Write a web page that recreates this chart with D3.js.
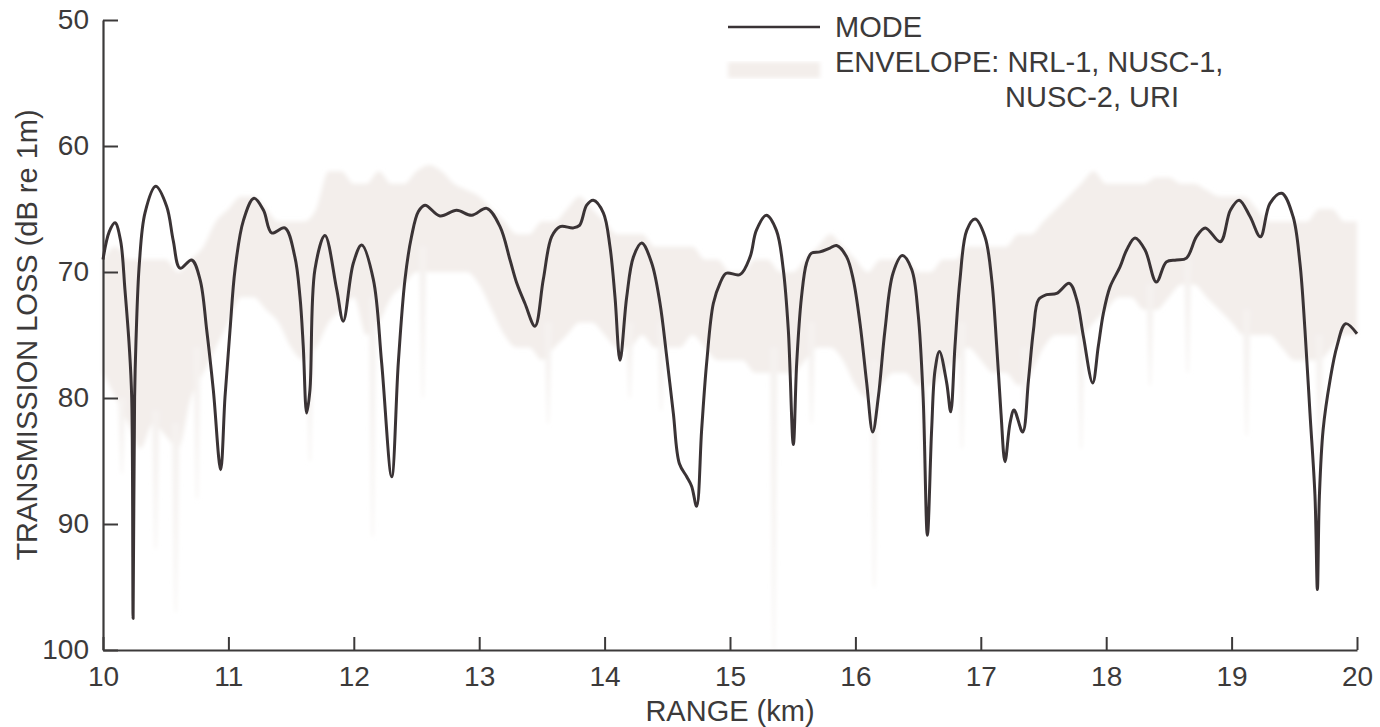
<!DOCTYPE html>
<html>
<head>
<meta charset="utf-8">
<script src="https://cdn.jsdelivr.net/npm/d3@7"></script>
<style>
  html, body { margin: 0; padding: 0; background: #ffffff; }
  svg { display: block; }
  text { font-family: "Liberation Sans", Arial, Helvetica, sans-serif; fill: #3c3a3a; }
</style>
</head>
<body>
<svg id="chart" width="1380" height="727"></svg>
<script>
// ---------- DATA ----------
const xTicks = [10, 11, 12, 13, 14, 15, 16, 17, 18, 19, 20];
const yTicks = [50, 60, 70, 80, 90, 100];

// MODE curve: range (km) and transmission loss (dB)
const modeKm = [10.00,10.05,10.096,10.14,10.175,10.21,10.229,10.24,10.252,10.263,10.29,10.335,10.42,10.508,10.56,10.614,10.707,10.774,10.827,10.88,10.938,10.973,11.013,11.053,11.12,11.204,11.28,11.345,11.45,11.53,11.571,11.597,11.624,11.65,11.69,11.77,11.864,11.916,11.996,12.063,12.156,12.222,12.302,12.355,12.408,12.46,12.515,12.568,12.687,12.82,12.94,13.06,13.166,13.246,13.30,13.365,13.445,13.511,13.578,13.645,13.75,13.80,13.857,13.91,13.99,14.043,14.083,14.123,14.176,14.23,14.296,14.376,14.442,14.495,14.548,14.596,14.655,14.694,14.734,14.774,14.814,14.867,14.92,14.97,15.08,15.16,15.21,15.29,15.37,15.425,15.465,15.505,15.532,15.57,15.61,15.65,15.717,15.797,15.85,15.93,15.983,16.037,16.09,16.138,16.183,16.236,16.30,16.374,16.449,16.50,16.54,16.574,16.608,16.635,16.67,16.728,16.76,16.794,16.834,16.888,16.954,17.033,17.087,17.127,17.161,17.193,17.233,17.265,17.334,17.38,17.42,17.46,17.525,17.605,17.706,17.765,17.818,17.892,17.937,17.977,18.03,18.11,18.163,18.23,18.31,18.40,18.48,18.56,18.64,18.72,18.79,18.91,18.99,19.06,19.147,19.23,19.306,19.40,19.49,19.545,19.585,19.625,19.665,19.684,19.70,19.73,19.785,19.84,19.91,20.00];
const modeDb = [69.0,66.8,66.1,67.5,71.4,76.0,80.0,97.5,80.0,75.5,69.3,65.3,63.2,64.8,67.5,69.7,69.05,70.6,74.6,79.4,85.7,79.9,74.6,69.8,65.9,64.15,65.1,66.9,66.5,68.8,72.0,75.9,81.2,79.4,69.8,67.1,71.4,73.9,69.3,67.86,70.6,77.2,86.25,77.2,70.6,67.2,65.2,64.7,65.55,65.1,65.5,64.95,66.4,69.05,70.9,72.5,74.3,70.6,67.2,66.4,66.5,66.3,64.7,64.3,65.3,68.0,72.0,77.0,72.0,68.8,67.7,69.3,72.5,76.7,81.2,85.2,86.25,87.0,88.6,82.5,77.2,72.5,70.9,70.1,70.2,68.8,66.7,65.5,66.7,69.8,74.6,83.7,77.2,72.0,69.3,68.5,68.4,68.1,67.9,68.8,70.6,74.1,78.8,82.7,79.9,74.6,70.1,68.7,69.8,73.3,79.9,90.9,82.5,77.8,76.3,78.8,81.1,75.9,70.6,66.7,65.8,67.2,70.6,75.9,81.2,85.05,82.0,80.95,82.7,78.6,74.6,72.2,71.8,71.7,70.9,72.2,75.1,78.8,75.9,73.3,71.2,69.6,68.25,67.3,68.25,70.8,69.2,69.05,68.9,67.2,66.5,67.6,65.1,64.3,65.6,67.2,64.55,63.75,65.6,69.3,74.6,81.2,87.8,95.2,87.8,82.5,78.6,75.9,74.1,74.9];

// ENVELOPE (NRL-1, NUSC-1, NUSC-2, URI): upper and lower edges of the band
const envKm = [10.0,10.1,10.2,10.3,10.4,10.5,10.6,10.7,10.8,10.9,11.0,11.1,11.2,11.3,11.4,11.5,11.6,11.7,11.8,11.9,12.0,12.1,12.2,12.3,12.4,12.5,12.6,12.7,12.8,12.9,13.0,13.1,13.2,13.3,13.4,13.5,13.6,13.7,13.8,13.9,14.0,14.1,14.2,14.3,14.4,14.5,14.6,14.7,14.8,14.9,15.0,15.1,15.2,15.3,15.4,15.5,15.6,15.7,15.8,15.9,16.0,16.1,16.2,16.3,16.4,16.5,16.6,16.7,16.8,16.9,17.0,17.1,17.2,17.3,17.4,17.5,17.6,17.7,17.8,17.9,18.0,18.1,18.2,18.3,18.4,18.5,18.6,18.7,18.8,18.9,19.0,19.1,19.2,19.3,19.4,19.5,19.6,19.7,19.8,19.9,20.0];
const envTop = [69,68,69,69,69,69,70,69,68,66,65,64,64,65,66,66,66,65,62,62,63,63,62,63,63,62,61.5,62,63,63.5,64,65,66,67,67,66,66,65,64,65,66,67,67,67,68,68,68,68,69,69,70,70,69,69,70,70,69,68,67,68,69,70,69,69,69,70,70,69,69,68,68,68,68,67,67,66,65,64,63,62,63,63,63,63,62.5,62.5,63,63,63.5,64,64,64,65,66,66,66,66,65,65,66,66];
const envBottom = [78,80,82,84,82,83,84,80,78,76,74,72,72,73,74,76,77,76,74,73,72,75,74,72,71,70,70,70,70,70,71,73,75,76,76,77,76,75,74,74,75,76,76,75,76,76,76,75,76,77,77,77,78,78,78,78,77,76,76,77,79,80,79,78,78,79,79,78,77,76,77,78,78,79,78,76,75,75,75,74,73,72,72,73,73,72,71,71,72,73,74,75,75,75,76,77,77,77,76,75,75];
// deep, narrow nulls of the envelope (km, dB)
const spikeKm = [10.15,10.42,10.58,10.75,11.65,12.15,12.55,13.55,14.2,14.45,15.35,15.65,16.15,16.55,16.85,17.35,17.8,18.35,18.65,19.12,19.7];
const spikeDb = [86,92,97,88,85,91,80,82,80,81,100,82,95,88,84,82,84,79,78,83,85];

// ---------- CHART ----------
const svg = d3.select("#chart");
const defs = svg.append("defs");
defs.append("filter").attr("id", "soft").attr("x", "-5%").attr("y", "-5%").attr("width", "110%").attr("height", "110%")
  .append("feGaussianBlur").attr("stdDeviation", 2.2);

const x = d3.scaleLinear().domain([10, 20]).range([103, 1357]);
const y = d3.scaleLinear().domain([50, 100]).range([20, 650]);

const envColor = "#f3eeeb";
const envG = svg.append("g").attr("filter", "url(#soft)");

// envelope band
const env = envKm.map((k, i) => ({k, t: envTop[i], b: envBottom[i]}));
envG.append("path")
  .datum(env)
  .attr("fill", envColor)
  .attr("d", d3.area().x(d => x(d.k)).y0(d => y(d.b)).y1(d => y(d.t)).curve(d3.curveMonotoneX));

// envelope spikes
const baseAt = k => {
  const i = d3.bisectLeft(envKm, k);
  const j = Math.min(i, envKm.length - 1);
  return envBottom[j];
};
spikeKm.forEach((k, i) => {
  const b = baseAt(k) - 2;
  const pts = [[k - 0.03, b], [k - 0.006, spikeDb[i]], [k + 0.006, spikeDb[i]], [k + 0.03, b]];
  envG.append("path")
    .datum(pts)
    .attr("fill", "#f5f2f0")
    .attr("d", d3.line().x(d => x(d[0])).y(d => y(d[1])));
});

// axes
const axisColor = "#3c3a3a";
const yAxis = svg.append("g")
  .attr("transform", `translate(${x(10)},0)`)
  .call(d3.axisLeft(y).tickValues(yTicks).tickSize(-15).tickSizeOuter(0).tickPadding(14).tickFormat(d3.format("d")));
const xAxis = svg.append("g")
  .attr("transform", `translate(0,${y(100)})`)
  .call(d3.axisBottom(x).tickValues(xTicks).tickSize(-13).tickSizeOuter(0).tickPadding(16).tickFormat(d3.format("d")));
[yAxis, xAxis].forEach(g => {
  g.select(".domain").attr("stroke", axisColor).attr("stroke-width", 2.2);
  g.selectAll(".tick line").attr("stroke", axisColor).attr("stroke-width", 2);
  g.selectAll(".tick text").attr("font-size", 28).attr("fill", "#403d3d")
    .attr("font-family", "'Liberation Sans', Arial, Helvetica, sans-serif");
});

// mode curve
const mode = modeKm.map((k, i) => [k, modeDb[i]]);
svg.append("path")
  .datum(mode)
  .attr("fill", "none")
  .attr("stroke", "#3a3335")
  .attr("stroke-width", 3)
  .attr("stroke-linejoin", "round")
  .attr("d", d3.line().x(d => x(d[0])).y(d => y(d[1])).curve(d3.curveCatmullRom.alpha(0.5)));

// axis titles
svg.append("text")
  .attr("x", x(15)).attr("y", 721)
  .attr("text-anchor", "middle").attr("font-size", 29).attr("fill", "#403d3d")
  .text("RANGE (km)");
svg.append("text")
  .attr("transform", `translate(37,${y(75)}) rotate(-90)`)
  .attr("text-anchor", "middle").attr("font-size", 29).attr("fill", "#403d3d")
  .text("TRANSMISSION LOSS (dB re 1m)");

// legend
svg.append("line")
  .attr("x1", 728).attr("x2", 820).attr("y1", 27).attr("y2", 27)
  .attr("stroke", "#3a3335").attr("stroke-width", 2.6);
svg.append("rect")
  .attr("x", 728).attr("y", 62).attr("width", 92).attr("height", 16)
  .attr("fill", envColor).attr("filter", "url(#soft)");
svg.append("text").attr("x", 835).attr("y", 37).attr("font-size", 29).attr("fill", "#403d3d").text("MODE");
svg.append("text").attr("x", 835).attr("y", 72).attr("font-size", 29).attr("fill", "#403d3d").text("ENVELOPE: NRL-1, NUSC-1,");
svg.append("text").attr("x", 1005).attr("y", 107).attr("font-size", 29).attr("fill", "#403d3d").text("NUSC-2, URI");
</script>
</body>
</html>
